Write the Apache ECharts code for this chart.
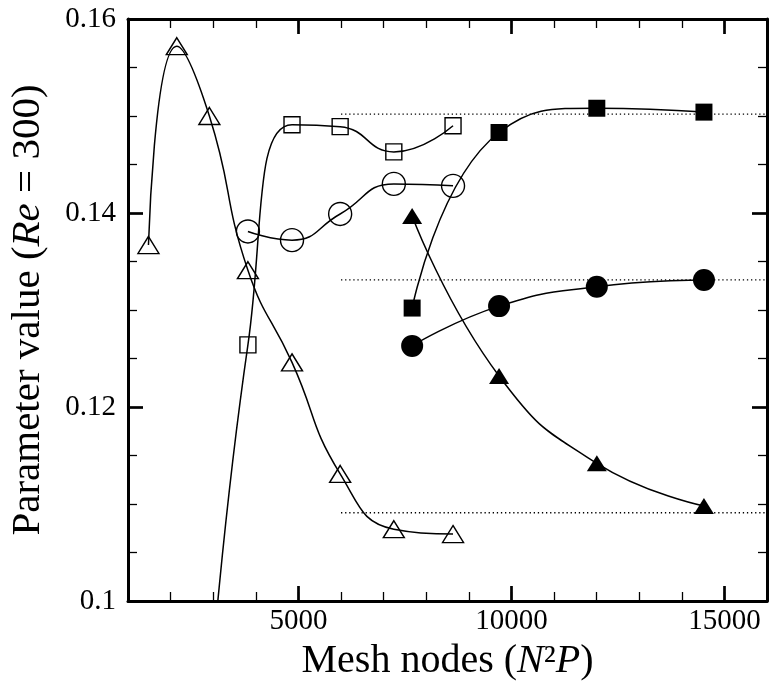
<!DOCTYPE html>
<html>
<head>
<meta charset="utf-8">
<script src="https://cdn.jsdelivr.net/npm/echarts@6/dist/echarts.min.js"></script>
<style>
html,body{margin:0;padding:0;background:#fff;}
#chart{width:769px;height:688px;}
</style>
</head>
<body>
<div id="chart"></div>
<script>
// ---- data ----
const openX = [1480, 2145, 2910, 3815, 4850, 5980, 7240, 8630];
const openTriY = [0.1367, 0.1572, 0.1500, 0.1341, 0.1246, 0.1131, 0.1074, 0.1069];
const openSqX = [2910, 3815, 4850, 5980, 7240, 8630];
const openSqY = [0.0900, 0.1264, 0.1491, 0.1489, 0.1463, 0.1490];
const openCircX = [3815, 4850, 5980, 7240, 8630];
const openCircY = [0.1381, 0.1372, 0.1399, 0.1430, 0.1428];
const fillX = [7670, 9710, 12005, 14520];
const fillSqY = [0.1302, 0.1483, 0.1508, 0.1504];
const fillCircY = [0.1263, 0.1304, 0.1324, 0.1331];
const fillTriY = [0.1397, 0.1232, 0.1142, 0.1098];
const refX = [6000, 16000];
const refY = [0.1502, 0.1331, 0.1091];
const xMajorTicks = [5000, 10000, 15000];
const xRange = [1000, 16000];
const yRange = [0.1, 0.16];

const FONT = 'Liberation Serif';
const zip = (xs, ys) => xs.map((x, i) => [x, ys[i]]);

function curve(xs, ys, symbol, size, filled) {
  return {
    type: 'line',
    data: zip(xs, ys),
    smooth: true,
    symbol: symbol,
    symbolSize: size,
    showSymbol: true,
    clip: true,
    lineStyle: { color: '#000', width: 1.5 },
    itemStyle: filled
      ? { color: '#000', borderColor: '#000', borderWidth: 0 }
      : { color: 'rgba(255,255,255,0)', borderColor: '#000', borderWidth: 1.4 },
    emphasis: { disabled: true },
    z: 3
  };
}

const series = [];
refY.forEach(v => {
  series.push({
    type: 'line',
    data: refX.map(x => [x, v]),
    symbol: 'none',
    lineStyle: { color: '#000', width: 1.3, type: [1.3, 2.8] },
    emphasis: { disabled: true },
    z: 2
  });
});
series.push(curve(openX, openTriY, 'triangle', [21, 17], false));
series.push(curve(openSqX, openSqY, 'rect', 16, false));
series.push(curve(openCircX, openCircY, 'circle', 23, false));
series.push(curve(fillX, fillSqY, 'rect', 17, true));
series.push(curve(fillX, fillCircY, 'circle', 22, true));
series.push(curve(fillX, fillTriY, 'triangle', [20, 16], true));

function xAxisDef(pos, major, labels) {
  const a = {
    type: 'value', position: pos, min: xRange[0], max: xRange[1],
    splitLine: { show: false },
    axisLine: { show: !major, onZero: false, lineStyle: { color: '#000', width: 3 } },
    axisLabel: { show: false }
  };
  if (major) {
    a.interval = 5000;
    a.axisTick = { show: true, inside: true, length: 15, customValues: xMajorTicks, lineStyle: { color: '#000', width: 2.7 } };
  } else {
    a.interval = 1000;
    a.axisTick = { show: true, inside: true, length: 9, lineStyle: { color: '#000', width: 1.3 } };
  }
  if (labels) {
    a.axisLabel = {
      show: true, customValues: xMajorTicks, margin: 6,
      fontFamily: FONT, fontSize: 29, color: '#000',
      formatter: v => String(v)
    };
    a.name = 'Mesh nodes ({i|N}²{i|P})';
    a.nameLocation = 'middle';
    a.nameGap = 40;
    a.nameTextStyle = {
      fontFamily: FONT, fontSize: 40, color: '#000',
      rich: {
        i: { fontFamily: FONT, fontSize: 40, fontStyle: 'italic', color: '#000' }
      }
    };
  }
  return a;
}

function yAxisDef(pos, labels) {
  const a = {
    type: 'value', position: pos, min: yRange[0], max: yRange[1], interval: 0.02,
    splitLine: { show: false },
    axisLine: { show: true, onZero: false, lineStyle: { color: '#000', width: 3 } },
    axisTick: { show: true, inside: true, length: 15, lineStyle: { color: '#000', width: 2.7 } },
    minorTick: { show: true, splitNumber: 4, length: 9, lineStyle: { color: '#000', width: 1.3 } },
    axisLabel: { show: false }
  };
  if (labels) {
    a.axisLabel = {
      show: true, margin: 12, fontFamily: FONT, fontSize: 29, color: '#000',
      formatter: v => String(+(+v).toFixed(3))
    };
    a.name = '{a|Parameter value (}{i|Re}{a| = 300)}';
    a.nameLocation = 'middle';
    a.nameGap = 79;
    a.nameRotate = 90;
    a.nameTextStyle = {
      fontFamily: FONT, fontSize: 41, color: '#000',
      rich: {
        a: { fontFamily: FONT, fontSize: 41, color: '#000' },
        i: { fontFamily: FONT, fontSize: 41, fontStyle: 'italic', color: '#000' }
      }
    };
  }
  return a;
}

const chart = echarts.init(document.getElementById('chart'), null, { renderer: 'canvas' });
chart.setOption({
  backgroundColor: '#fff',
  animation: false,
  grid: { left: 127, right: 2, top: 19, bottom: 87, containLabel: false },
  xAxis: [
    xAxisDef('bottom', false, true),
    xAxisDef('bottom', true, false),
    xAxisDef('top', false, false),
    xAxisDef('top', true, false)
  ],
  yAxis: [
    yAxisDef('left', true),
    yAxisDef('right', false)
  ],
  series: series
});
</script>
</body>
</html>
